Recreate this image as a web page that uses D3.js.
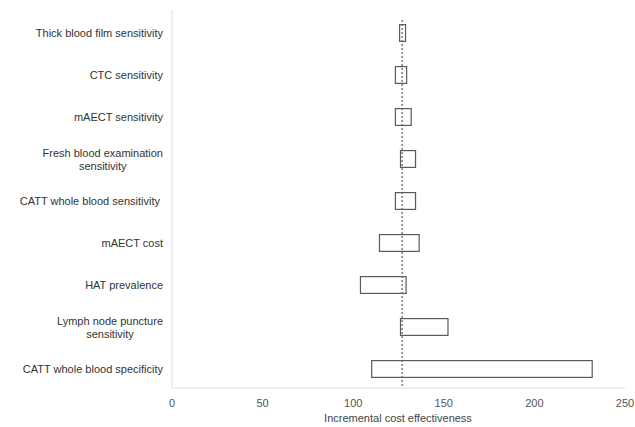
<!DOCTYPE html>
<html>
<head>
<meta charset="utf-8">
<script src="https://cdn.jsdelivr.net/npm/d3@7"></script>
<style>
  body { margin: 0; background: #fff; }
  text { font-family: "Liberation Sans", Arial, sans-serif; }
</style>
</head>
<body>
<div id="chart"></div>
<script>
// parameters, top to bottom (line breaks marked with \n)
var params = [
  "Thick blood film sensitivity",
  "CTC sensitivity",
  "mAECT sensitivity",
  "Fresh blood examination\nsensitivity",
  "CATT whole blood sensitivity ",
  "mAECT cost",
  "HAT prevalence",
  "Lymph node puncture\nsensitivity",
  "CATT whole blood specificity"
];
var lowValues  = [125.6, 123.3, 123.3, 126.1, 123.3, 114.5, 104.0, 126.1, 110.2];
var highValues = [128.9, 129.5, 132.0, 134.4, 134.4, 136.4, 129.2, 152.3, 231.9];
var baseValue = 127;
var xTicks = [0, 50, 100, 150, 200, 250];

var width = 635, height = 427;
var margin = { top: 10, right: 10, bottom: 39, left: 172 };
var axisY = height - margin.bottom;

var svg = d3.select("#chart").append("svg")
    .attr("width", width)
    .attr("height", height);

var x = d3.scaleLinear()
    .domain([0, 250])
    .range([margin.left, 625]);

var y = d3.scaleBand()
    .domain(params)
    .range([margin.top + 2, axisY + 2])
    .paddingInner(0.6)
    .paddingOuter(0.3);

// axis lines
svg.append("line")
    .attr("x1", x(0)).attr("x2", x(0))
    .attr("y1", margin.top).attr("y2", axisY)
    .attr("stroke", "#dcdcdc");
svg.append("line")
    .attr("x1", x(0)).attr("x2", x(250))
    .attr("y1", axisY).attr("y2", axisY)
    .attr("stroke", "#dcdcdc");

// bars
svg.append("g").selectAll("rect")
    .data(params)
    .enter().append("rect")
    .attr("x", function (d, i) { return x(lowValues[i]); })
    .attr("width", function (d, i) { return x(highValues[i]) - x(lowValues[i]); })
    .attr("y", function (d) { return y(d); })
    .attr("height", y.bandwidth())
    .attr("fill", "#fff")
    .attr("stroke", "#5a5a5a")
    .attr("stroke-width", 1.2);

// base case line
svg.append("line")
    .attr("x1", x(baseValue)).attr("x2", x(baseValue))
    .attr("y1", 20).attr("y2", axisY - 2)
    .attr("stroke", "#666")
    .attr("stroke-width", 1.3)
    .attr("stroke-dasharray", "2,2");

// x tick labels
svg.append("g").selectAll("text")
    .data(xTicks)
    .enter().append("text")
    .attr("x", function (d) { return x(d); })
    .attr("y", 407)
    .attr("text-anchor", "middle")
    .attr("font-size", 11)
    .attr("fill", "#555")
    .text(function (d) { return d; });

svg.append("text")
    .attr("x", 398)
    .attr("y", 422)
    .attr("text-anchor", "middle")
    .attr("font-size", 11)
    .attr("fill", "#444")
    .text("Incremental cost effectiveness");

// category labels: block right-aligned, lines centred on each other
var labels = svg.append("g").selectAll("text")
    .data(params)
    .enter().append("text")
    .attr("font-size", 11)
    .attr("fill", "#333")
    .style("white-space", "pre")
    .attr("text-anchor", "middle");

labels.each(function (d) {
    var el = d3.select(this);
    var lines = d.split("\n");
    var cy = y(d) + y.bandwidth() / 2;
    var tspans = lines.map(function (t, k) {
        return el.append("tspan")
            .attr("y", cy + 4 + (k - (lines.length - 1) / 2) * 13)
            .text(t);
    });
    var w = d3.max(tspans, function (t) { return t.node().getComputedTextLength(); });
    tspans.forEach(function (t) { t.attr("x", 163 - w / 2); });
});
</script>
</body>
</html>
